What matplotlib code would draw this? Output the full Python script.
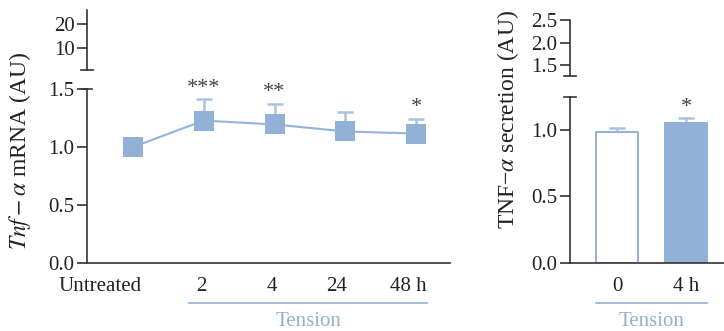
import matplotlib
matplotlib.use("Agg")
import matplotlib.pyplot as plt
from matplotlib.transforms import blended_transform_factory, ScaledTranslation
import numpy as np

plt.rcParams['font.family'] = ['Liberation Serif', 'DejaVu Serif']
plt.rcParams['mathtext.fontset'] = 'stix'

# ---- data ----
mrna_labels = ["Untreated", "2", "4", "24", "48 h"]
mrna_mean = [1.0, 1.228, 1.194, 1.134, 1.116]
mrna_err = [0.05, 0.183, 0.179, 0.165, 0.128]
mrna_sig = ["", "***", "**", "", "*"]

sec_labels = ["0", "4 h"]
sec_mean = [0.987, 1.05]
sec_err = [0.03, 0.04]
sec_sig = ["", "*"]

left_upper_ticks = [10, 20]
left_lower_ticks = [0.0, 0.5, 1.0, 1.5]
right_upper_ticks = [1.5, 2.0, 2.5]
right_lower_ticks = [0.0, 0.5, 1.0]

# ---- style ----
W, H = 724, 331
BLUE = "#92b1d7"
LINE = "#93b3da"
ERR = "#a9c2e2"
AX = "#333333"
TXT = "#222222"
FS = 15
LFS = 17
label_shift_px = [-33, -2.5, -2.5, -8.5, -8]

fig = plt.figure(figsize=(W / 100, H / 100), dpi=100)


def rect(x0, y0, x1, y1):
    return [x0 / W, (H - y1) / H, (x1 - x0) / W, (y1 - y0) / H]


def style(ax, xaxis=True):
    for s in ["top", "right"]:
        ax.spines[s].set_visible(False)
    ax.spines["left"].set_color(AX)
    ax.spines["left"].set_linewidth(1.2)
    ax.spines["bottom"].set_color(AX)
    ax.spines["bottom"].set_linewidth(1.2)
    ax.tick_params(axis="y", length=7, width=1.2, color=AX, labelsize=FS,
                   labelcolor=TXT, pad=2)
    ax.tick_params(axis="x", length=0, labelsize=FS, labelcolor=TXT, pad=10)
    if not xaxis:
        ax.spines["bottom"].set_visible(False)
        ax.set_xticks([])
    ax.patch.set_alpha(0)


def brk(ax, yfrac, halfpx):
    w = ax.get_position().width * W
    ax.plot([-halfpx / w, halfpx / w], [yfrac, yfrac], transform=ax.transAxes,
            color=AX, lw=1.2, clip_on=False)


# ---------- left panel ----------
x = np.arange(len(mrna_labels))
axL = fig.add_axes(rect(87, 89, 450, 263))
axLu = fig.add_axes(rect(87, 10, 450, 70))
style(axL)
style(axLu, xaxis=False)

axL.set_xlim(-0.65, 4.48)
axL.set_ylim(0, 1.5)
axL.set_yticks(left_lower_ticks)
axL.set_yticklabels([f"{t:.1f}" for t in left_lower_ticks])
axL.set_xticks(x)
axL.set_xticklabels(mrna_labels)
for lab, dx in zip(axL.get_xticklabels(), label_shift_px):
    lab.set_transform(lab.get_transform() + ScaledTranslation(dx / 100, 0, fig.dpi_scale_trans))
axL.errorbar(x, mrna_mean, yerr=[np.zeros(len(x)), mrna_err], fmt="none",
             ecolor=ERR, elinewidth=1.8, capsize=6, capthick=1.8, zorder=2,
             clip_on=False)
axL.plot(x, mrna_mean, color=LINE, lw=1.5, marker="s", markersize=13.7,
         markerfacecolor=BLUE, markeredgecolor=BLUE, markeredgewidth=0,
         zorder=3, clip_on=False)
for xi, m, e, s in zip(x, mrna_mean, mrna_err, mrna_sig):
    if s:
        axL.annotate(s, xy=(xi, m + e), xytext=(0, 1), textcoords="offset points",
                     ha="center", va="bottom", fontsize=FS + 1, color="#444444",
                     annotation_clip=False)
brk(axL, 1.0, 5)

axLu.set_xlim(-0.65, 4.48)
axLu.set_ylim(0.83, 25.83)
axLu.set_yticks(left_upper_ticks)
brk(axLu, 0.0, 6)

tL = blended_transform_factory(axL.transData, axL.transAxes)
axL.plot([0.79, 4.16], [-0.23, -0.23], transform=tL, color=BLUE, lw=1.2,
         clip_on=False)
axL.text((0.79 + 4.16) / 2, -0.335, "Tension", transform=tL, ha="center",
         va="center", fontsize=FS, color=BLUE)

fig.text(20 / W, 1 - 151 / H, r"$Tnf-\alpha$" + " mRNA (AU)",
         rotation=90, ha="center", va="center", fontsize=LFS, color=TXT)

# ---------- right panel ----------
xr = np.arange(len(sec_labels))
axR = fig.add_axes(rect(570, 97, 724, 263))
axRu = fig.add_axes(rect(570, 20, 724, 76))
style(axR)
style(axRu, xaxis=False)

axR.set_xlim(-0.68, 1.55)
axR.set_ylim(0, 1.248)
axR.set_yticks(right_lower_ticks)
axR.set_yticklabels([f"{t:.1f}" for t in right_lower_ticks])
axR.set_xticks(xr)
axR.set_xticklabels(sec_labels)
axR.errorbar(xr, sec_mean, yerr=[np.zeros(len(xr)), sec_err], fmt="none",
             ecolor=ERR, elinewidth=1.8, capsize=6, capthick=1.8, zorder=1,
             clip_on=False)
axR.bar(xr, sec_mean, width=0.62, color=["white", BLUE],
        edgecolor=[BLUE, BLUE], linewidth=1.4, zorder=2)
for xi, m, e, s in zip(xr, sec_mean, sec_err, sec_sig):
    if s:
        axR.annotate(s, xy=(xi, m + e), xytext=(0, 1), textcoords="offset points",
                     ha="center", va="bottom", fontsize=FS + 1, color="#444444",
                     annotation_clip=False)
brk(axR, 1.0, 6)

axRu.set_xlim(-0.68, 1.55)
axRu.set_ylim(1.256, 2.5)
axRu.set_yticks(right_upper_ticks)
axRu.set_yticklabels([f"{t:.1f}" for t in right_upper_ticks])
brk(axRu, 0.0, 6)

tR = blended_transform_factory(axR.transData, axR.transAxes)
axR.plot([-0.31, 1.31], [-0.241, -0.241], transform=tR, color=BLUE, lw=1.2,
         clip_on=False)
axR.text(0.5, -0.35, "Tension", transform=tR, ha="center", va="center",
         fontsize=FS, color=BLUE)

fig.text(508 / W, 1 - 120 / H, "TNF\u2212" + r"$\alpha$" + " secretion (AU)",
         rotation=90, ha="center", va="center", fontsize=LFS, color=TXT)

fig.savefig("out.png", dpi=100)
